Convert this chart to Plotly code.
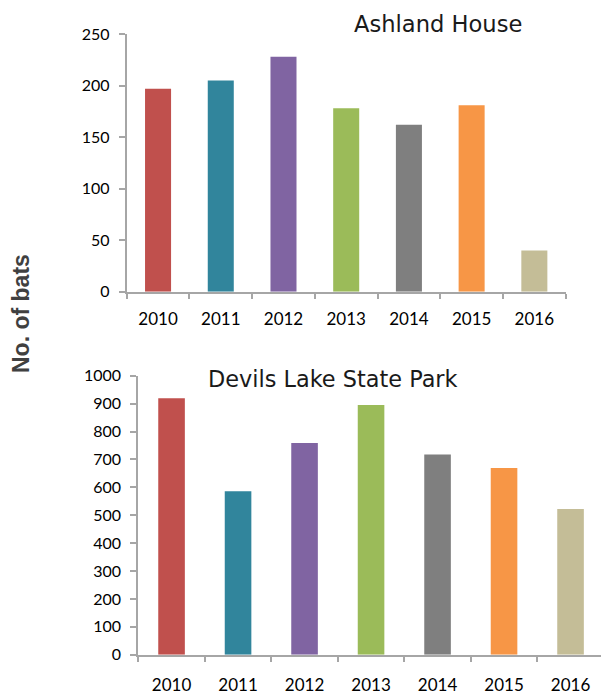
import plotly.graph_objects as go

# Bat counts per year at the two roost sites
years = ["2010", "2011", "2012", "2013", "2014", "2015", "2016"]
ashland_bats = [197, 205, 228, 178, 162, 181, 40]
devils_lake_bats = [919, 586, 759, 895, 718, 669, 522]
year_colors = ["#C0504D", "#31859C", "#8064A2", "#9BBB59", "#7F7F7F", "#F79646", "#C4BD97"]

W, H = 601, 694


def fx(px):
    return px / W


def fy(px):
    return 1 - px / H


fig = go.Figure()
fig.add_trace(go.Bar(x=years, y=ashland_bats, width=0.415,
                     marker=dict(color=year_colors, line_width=0),
                     xaxis="x", yaxis="y", showlegend=False))
fig.add_trace(go.Bar(x=years, y=devils_lake_bats, width=0.40,
                     marker=dict(color=year_colors, line_width=0),
                     xaxis="x2", yaxis="y2", showlegend=False))

axis_grey = "#A6A6A6"
tick_font = dict(family="Lato", size=16, color="#000000")
xtick_font = dict(family="Lato", size=17, color="#000000")

x_common = dict(type="category", showline=True, linecolor=axis_grey, linewidth=2,
                ticks="outside", tickson="boundaries", ticklen=5, tickcolor=axis_grey,
                tickwidth=1.5, showgrid=False, zeroline=False, tickfont=xtick_font,
                fixedrange=True, automargin=False)
y_common = dict(showline=True, linecolor=axis_grey, linewidth=2, ticks="outside",
                ticklen=6, tickcolor=axis_grey, tickwidth=1.5, showgrid=False,
                zeroline=False, tickfont=tick_font, fixedrange=True, automargin=False)

fig.update_layout(
    template="none",
    width=W, height=H,
    margin=dict(l=0, r=0, t=0, b=0, autoexpand=False),
    paper_bgcolor="white", plot_bgcolor="white",
    xaxis=dict(x_common, domain=[fx(126.7), fx(565.7)], range=[-0.5, 6.5],
               anchor="y", ticklabelstandoff=11),
    yaxis=dict(y_common, domain=[fy(291.7), fy(34)], range=[0, 250], dtick=50,
               anchor="x", ticklabelstandoff=6),
    xaxis2=dict(x_common, domain=[fx(138.3), 1.0], range=[-0.5, 6.458],
                anchor="y2", ticklabelstandoff=14),
    yaxis2=dict(y_common, domain=[fy(654.7), fy(375.7)], range=[0, 1000], dtick=100,
                anchor="x2", ticklabelstandoff=6),
    annotations=[
        dict(text="Ashland House", x=fx(438), y=fy(24), xref="paper", yref="paper",
             xanchor="center", yanchor="middle", showarrow=False,
             font=dict(family="DejaVu Sans", size=22.6, color="#1a1a1a")),
        dict(text="Devils Lake State Park", x=fx(332.5), y=fy(379), xref="paper",
             yref="paper", xanchor="center", yanchor="middle", showarrow=False,
             font=dict(family="DejaVu Sans", size=22.4, color="#1a1a1a")),
        dict(text="<b>No. of bats</b>", x=fx(21), y=fy(314), xref="paper", yref="paper",
             xanchor="center", yanchor="middle", showarrow=False, textangle=-90,
             font=dict(family="Liberation Sans", size=23, color="#404040")),
    ],
)

fig.write_html("out.html")
